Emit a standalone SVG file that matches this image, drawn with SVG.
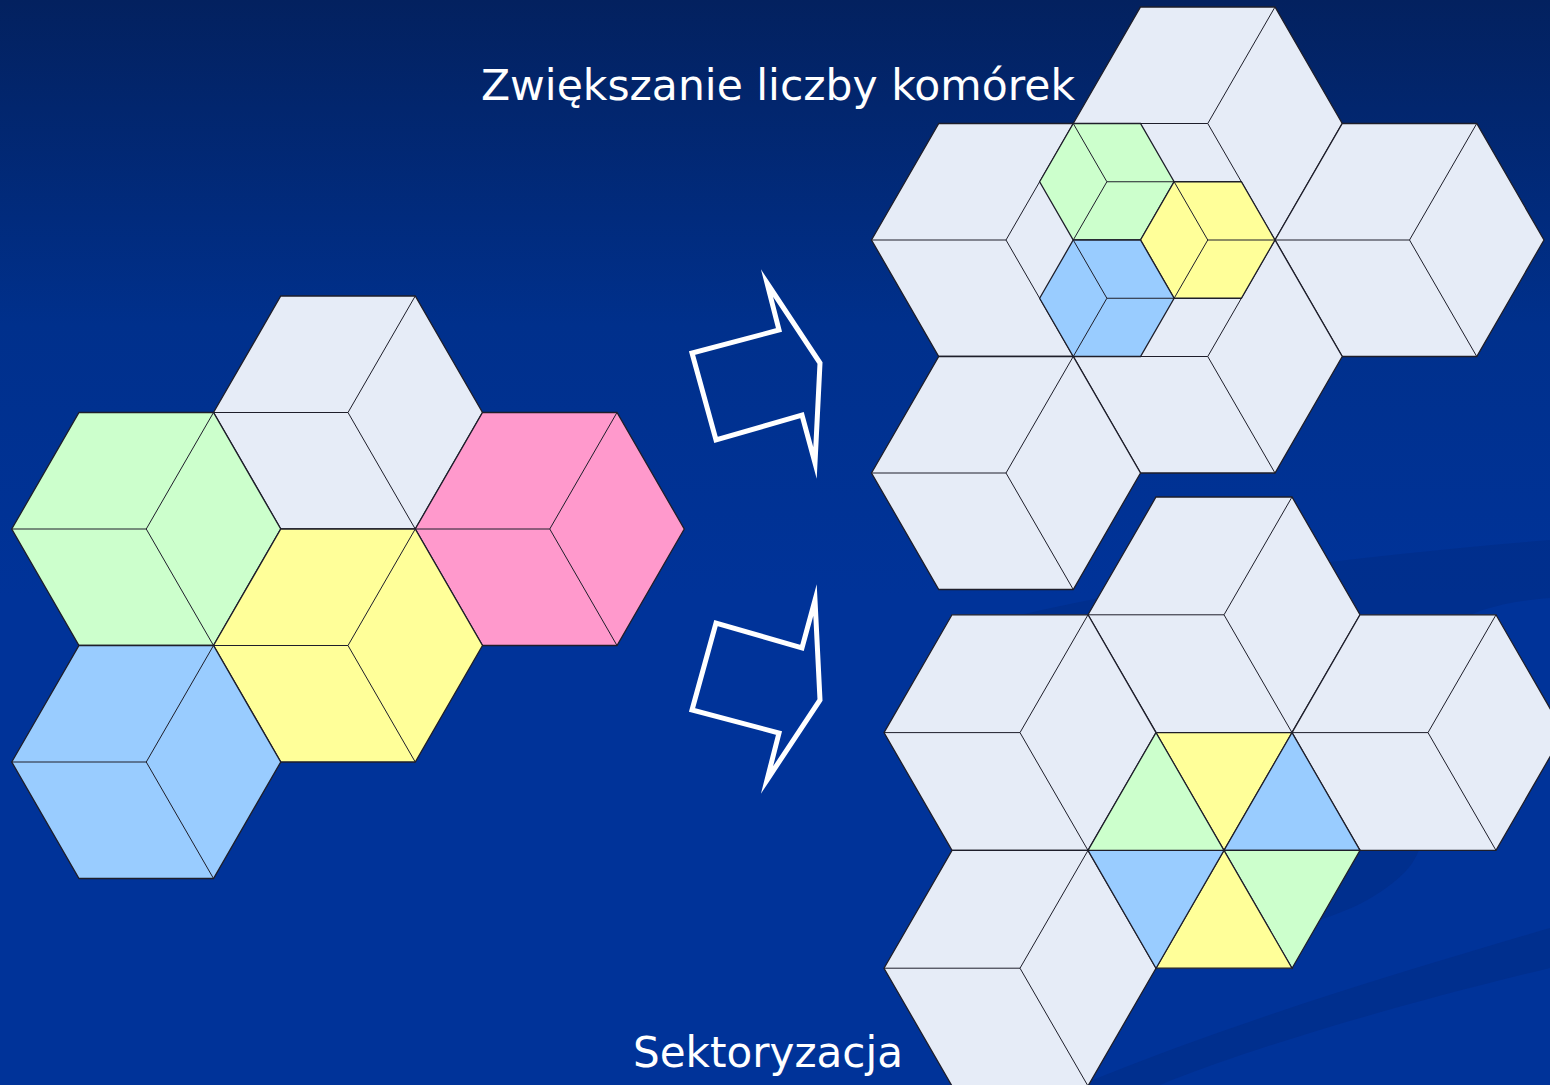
<svg xmlns="http://www.w3.org/2000/svg" xmlns:xlink="http://www.w3.org/1999/xlink" width="1550" height="1085" viewBox="0 0 1550 1085">
  <defs>
    <linearGradient id="bg" x1="0" y1="0" x2="0" y2="1">
      <stop offset="0" stop-color="#03215f"/>
      <stop offset="0.3" stop-color="#00308c"/>
      <stop offset="0.55" stop-color="#003399"/>
      <stop offset="1" stop-color="#003399"/>
    </linearGradient>
    <g id="cubeA">
      <path class="hex" d="M-134.5,0 L-67.25,-116.5 L67.25,-116.5 L134.5,0 L67.25,116.5 L-67.25,116.5 Z"/>
      <path class="inner" d="M-134.5,0 H0 L67.25,-116.5 M0,0 L67.25,116.5"/>
    </g>
    <g id="cubeB">
      <path class="hex" d="M-136,0 L-68,-117.8 L68,-117.8 L136,0 L68,117.8 L-68,117.8 Z"/>
      <path class="inner" d="M-136,0 H0 L68,-117.8 M0,0 L68,117.8"/>
    </g>
    <g id="cubeS">
      <path class="hex" d="M-67.25,0 L-33.625,-58.25 L33.625,-58.25 L67.25,0 L33.625,58.25 L-33.625,58.25 Z"/>
      <path class="inner" d="M-33.625,-58.25 L0,0 H67.25 M0,0 L-33.625,58.25"/>
    </g>
    <path id="arrowShape" d="M767,283 L820,363 L815,463 L802,415 L716,440 L692,353 L779,330 Z"/>
  </defs>
  <style>
    .hex { stroke: #1e1e2a; stroke-width: 1.3; stroke-linejoin: miter; }
    .inner { fill: none; stroke: #1e1e2a; stroke-width: 1; }
    .tri { stroke: #1e1e2a; stroke-width: 1.2; stroke-linejoin: miter; }
    .w { fill: #E6ECF7; }
    .g { fill: #CCFFCC; }
    .y { fill: #FFFF99; }
    .b { fill: #99CCFF; }
    .p { fill: #FF99CC; }
    .arrow { fill: none; stroke: #ffffff; stroke-width: 5; stroke-linejoin: miter; stroke-miterlimit: 12; }
    .label { fill: #ffffff; font-family: "DejaVu Sans", "Liberation Sans", sans-serif; font-size: 43px; }
    .swoosh { fill: #002b80; opacity: 0.45; }
  </style>

  <rect x="0" y="0" width="1550" height="1085" fill="url(#bg)"/>
  <g id="background-swooshes">
    <path class="swoosh" d="M980,625 C1150,580 1360,556 1550,540 L1550,598 C1470,604 1425,628 1420,680 C1414,760 1445,830 1405,872 C1375,902 1335,917 1290,928 C1340,880 1372,822 1365,762 C1358,700 1330,648 1225,636 C1120,628 1040,626 980,640 Z"/>
    <path class="swoosh" d="M1080,1085 C1240,1020 1400,972 1550,928 L1550,968 C1400,1004 1250,1048 1160,1085 Z"/>
  </g>

  <g id="cluster-left">
    <g id="hex-left-white"><use xlink:href="#cubeA" href="#cubeA" class="w" transform="translate(348,412.5)"/></g>
    <g id="hex-left-green"><use xlink:href="#cubeA" href="#cubeA" class="g" transform="translate(146.25,529)"/></g>
    <g id="hex-left-pink"><use xlink:href="#cubeA" href="#cubeA" class="p" transform="translate(549.75,529)"/></g>
    <g id="hex-left-yellow"><use xlink:href="#cubeA" href="#cubeA" class="y" transform="translate(348,645.5)"/></g>
    <g id="hex-left-blue"><use xlink:href="#cubeA" href="#cubeA" class="b" transform="translate(146.25,762)"/></g>
  </g>

  <g id="cluster-split">
    <g id="hex-split-top"><use xlink:href="#cubeA" href="#cubeA" class="w" transform="translate(1207.75,123.5)"/></g>
    <g id="hex-split-left"><use xlink:href="#cubeA" href="#cubeA" class="w" transform="translate(1006,240)"/></g>
    <g id="hex-split-right"><use xlink:href="#cubeA" href="#cubeA" class="w" transform="translate(1409.5,240)"/></g>
    <g id="hex-split-center"><use xlink:href="#cubeA" href="#cubeA" class="w" transform="translate(1207.75,356.5)"/></g>
    <g id="hex-split-bottomleft"><use xlink:href="#cubeA" href="#cubeA" class="w" transform="translate(1006,473)"/></g>
    <g id="small-green"><use xlink:href="#cubeS" href="#cubeS" class="g" transform="translate(1106.875,181.75)"/></g>
    <g id="small-yellow"><use xlink:href="#cubeS" href="#cubeS" class="y" transform="translate(1207.75,240)"/></g>
    <g id="small-blue"><use xlink:href="#cubeS" href="#cubeS" class="b" transform="translate(1106.875,298.25)"/></g>
  </g>

  <g id="cluster-sector">
    <g id="hex-sector-top"><use xlink:href="#cubeB" href="#cubeB" class="w" transform="translate(1224,614.8)"/></g>
    <g id="hex-sector-left"><use xlink:href="#cubeB" href="#cubeB" class="w" transform="translate(1020,732.6)"/></g>
    <g id="hex-sector-right"><use xlink:href="#cubeB" href="#cubeB" class="w" transform="translate(1428,732.6)"/></g>
    <g id="hex-sector-bottomleft"><use xlink:href="#cubeB" href="#cubeB" class="w" transform="translate(1020,968.2)"/></g>
    <g id="hex-sectored">
      <path class="tri y" d="M1156,732.6 L1292,732.6 L1224,850.4 Z"/>
      <path class="tri b" d="M1292,732.6 L1360,850.4 L1224,850.4 Z"/>
      <path class="tri g" d="M1360,850.4 L1292,968.2 L1224,850.4 Z"/>
      <path class="tri y" d="M1292,968.2 L1156,968.2 L1224,850.4 Z"/>
      <path class="tri b" d="M1156,968.2 L1088,850.4 L1224,850.4 Z"/>
      <path class="tri g" d="M1088,850.4 L1156,732.6 L1224,850.4 Z"/>
    </g>
  </g>

  <g id="connectors">
    <use id="arrow-upper" xlink:href="#arrowShape" href="#arrowShape" class="arrow"/>
    <use id="arrow-lower" xlink:href="#arrowShape" href="#arrowShape" class="arrow" transform="matrix(1,0,0,-1,0,1063)"/>
  </g>

  <g id="labels">
    <text id="label-split" class="label" x="481" y="100" textLength="594" lengthAdjust="spacingAndGlyphs">Zwiększanie liczby komórek</text>
    <text id="label-sector" class="label" x="633" y="1067" textLength="270" lengthAdjust="spacingAndGlyphs">Sektoryzacja</text>
  </g>
</svg>
